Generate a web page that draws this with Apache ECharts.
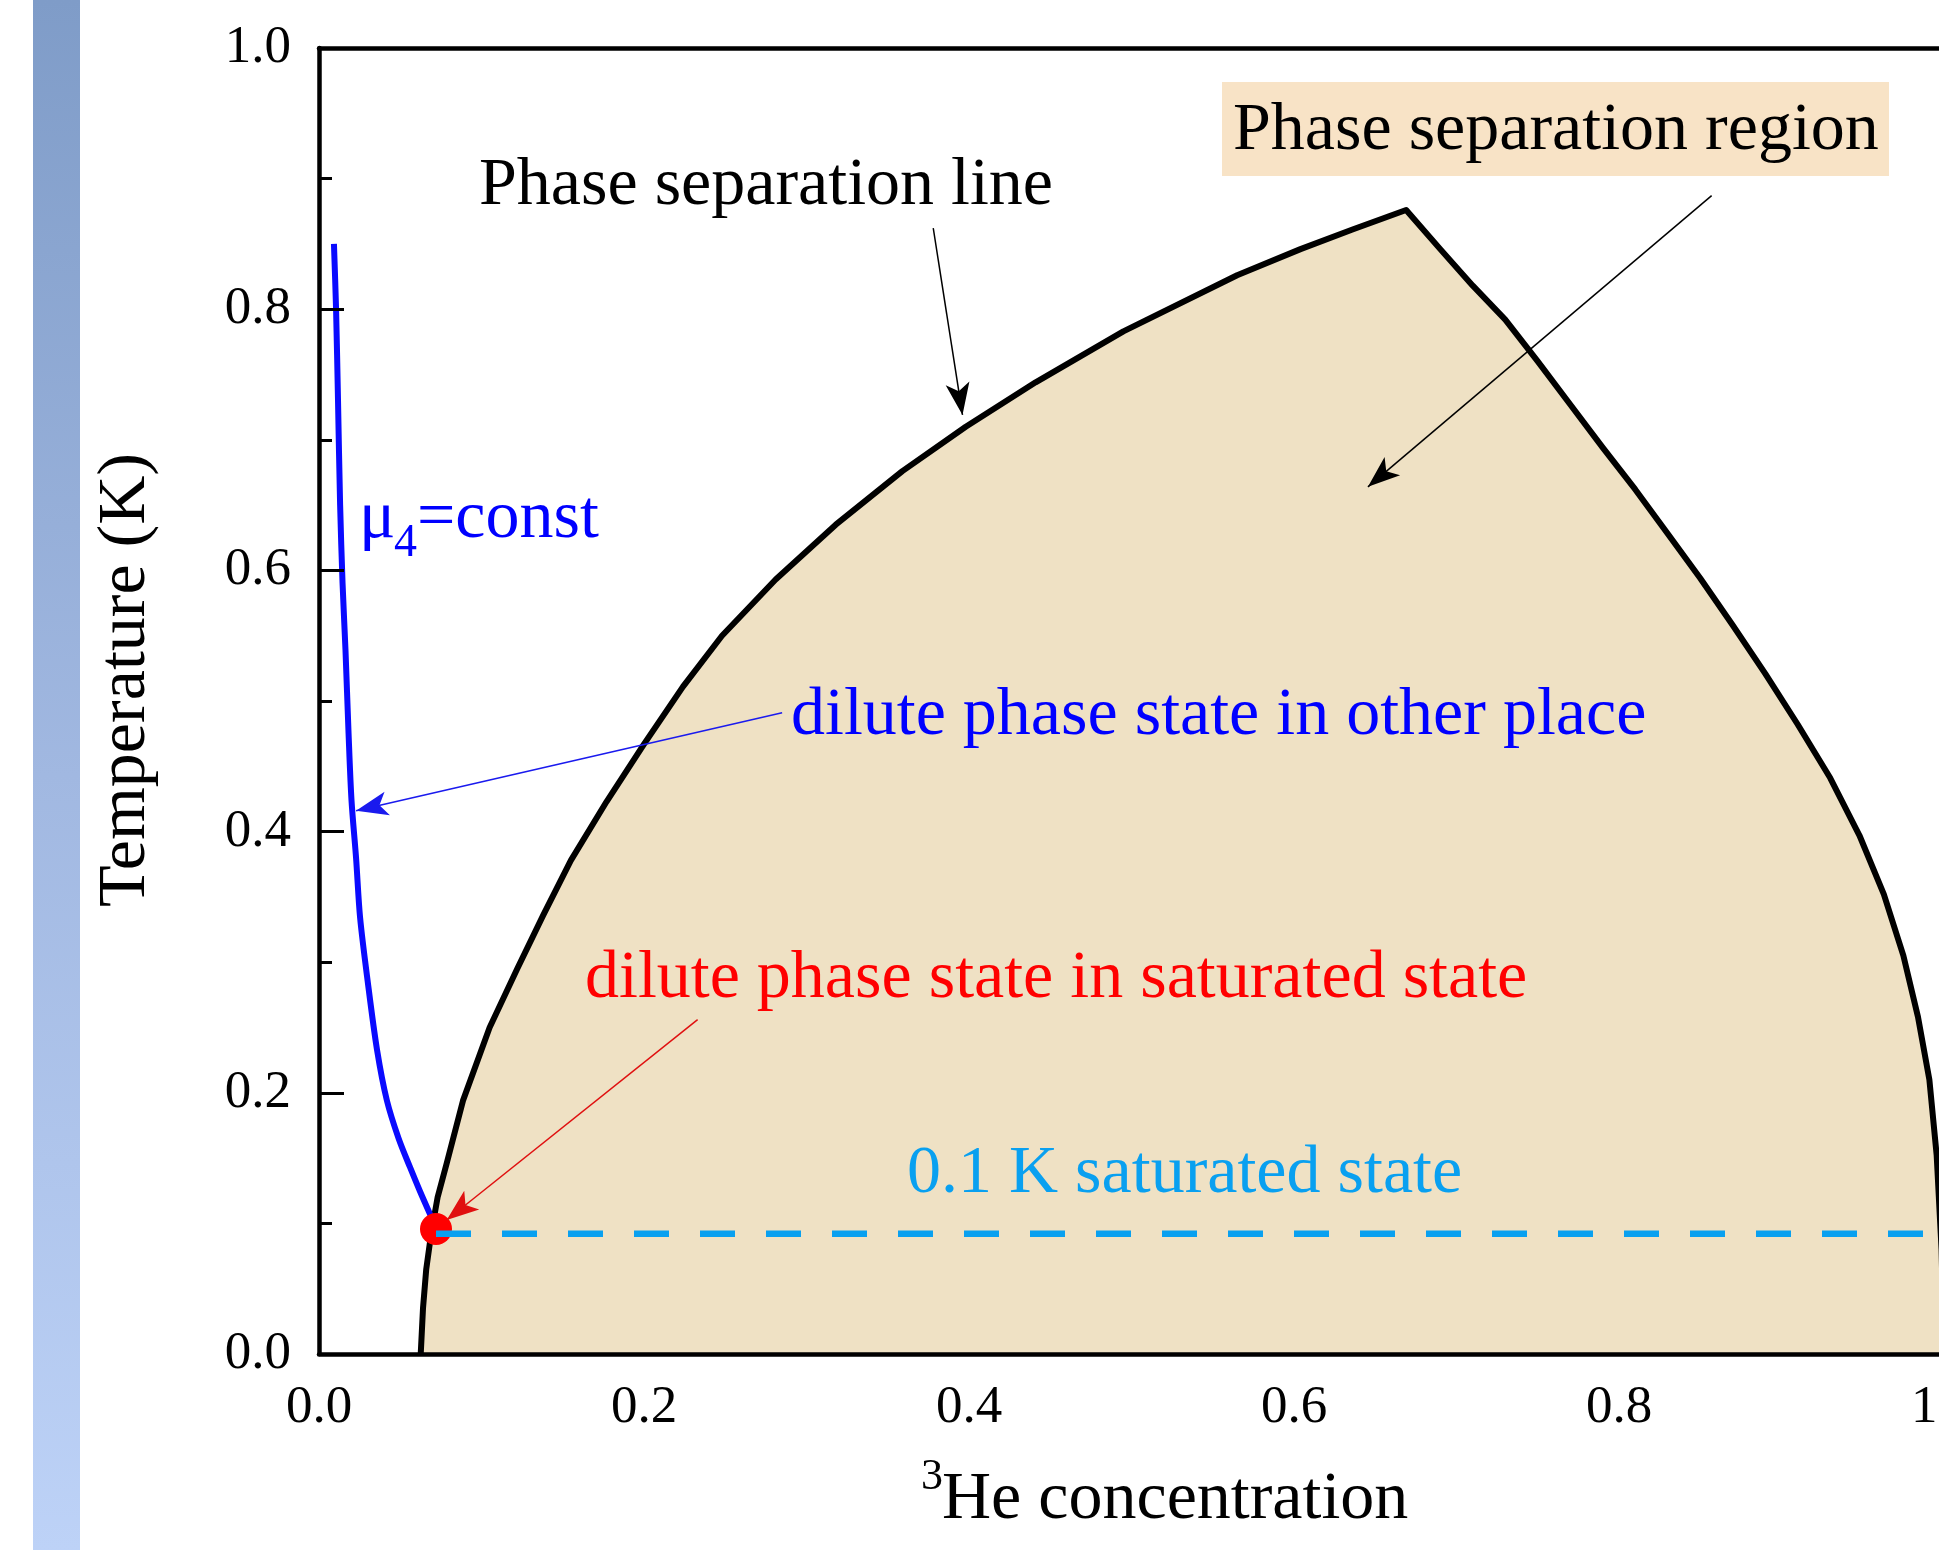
<!DOCTYPE html>
<html><head><meta charset="utf-8">
<script src="https://cdn.jsdelivr.net/npm/echarts/dist/echarts.min.js"></script>
<style>html,body{margin:0;padding:0;background:#fff}#c{width:1939px;height:1550px}</style>
</head><body><div id="c"></div>
<script>
// Phase separation line (x = 3He concentration, T in K)
const boundaryX = [0.0626,0.0640,0.0660,0.0690,0.0730,0.0786,0.0886,0.105,0.122,0.138,0.155,0.177,0.200,0.224,0.248,0.281,0.318,0.359,0.398,0.441,0.495,0.565,0.604,0.636,0.669,
  0.690,0.710,0.730,0.750,0.770,0.790,0.810,0.830,0.850,0.870,0.890,0.910,0.930,0.948,0.963,0.975,0.984,0.991,0.9955,0.9985,1.000];
const boundaryT = [0.000,0.035,0.065,0.092,0.120,0.146,0.194,0.250,0.295,0.336,0.378,0.423,0.467,0.511,0.550,0.593,0.635,0.676,0.710,0.744,0.783,0.826,0.846,0.861,0.876,
  0.846,0.818,0.792,0.760,0.727,0.694,0.662,0.628,0.594,0.558,0.521,0.482,0.441,0.397,0.352,0.305,0.258,0.210,0.152,0.080,0.000];
// mu4 = const curve
const mu4X = [0.0092,0.0105,0.0117,0.0130,0.0145,0.0163,0.0182,0.0200,0.0228,0.0253,0.0300,0.0357,0.0418,0.0490,0.0560,0.0620,0.0680,0.0720];
const mu4T = [0.850,0.800,0.730,0.650,0.590,0.539,0.475,0.424,0.380,0.334,0.285,0.233,0.194,0.165,0.143,0.125,0.108,0.097];
// saturated dilute state point and 0.1 K saturated line
const saturatedPoint = [0.072, 0.0957];
const saturatedLineX = [0.072, 1.0];
const saturatedLineT = [0.092, 0.092];
// annotation arrows (data coordinates)
const arrowFrom = [[0.378,0.862],[0.857,0.887],[0.285,0.491],[0.233,0.256]];
const arrowTo   = [[0.396,0.719],[0.6455,0.664],[0.0228,0.416],[0.0786,0.1026]];
const arrowColors = ['#000000','#000000','#1a1aee','#e01010'];

const FONT = '"Liberation Serif","Times New Roman",serif';
const chart = echarts.init(document.getElementById('c'), null, {renderer:'canvas'});

const zip = (a,b)=>a.map((v,i)=>[v,b[i]]);

function txt(text, x, y, size, color, extra){
  return Object.assign({
    type:'text', x:x, y:y, z:100,
    style:{text:text, font: size+'px '+FONT, fill:color,
      align:'left', textAlign:'left', verticalAlign:'middle', textVerticalAlign:'middle'}
  }, extra||{});
}

const option = {
  animation:false,
  backgroundColor:'#ffffff',
  grid:{left:319, top:48, width:1625, height:1306, containLabel:false, outerBoundsMode:'none'},
  xAxis:[{
    type:'value', min:0, max:1, interval:0.2, position:'bottom', z:10,
    axisLine:{show:true, onZero:false, lineStyle:{color:'#000', width:4.5}},
    axisTick:{show:false},
    splitLine:{show:false},
    axisLabel:{show:true, margin:28, color:'#000', fontSize:53, fontFamily:FONT,
      formatter:v=>v.toFixed(1), showMaxLabel:true, showMinLabel:true}
  },{
    type:'value', min:0, max:1, position:'top', z:10,
    axisLine:{show:true, onZero:false, lineStyle:{color:'#000', width:4.5}},
    axisTick:{show:false}, axisLabel:{show:false}, splitLine:{show:false}
  }],
  yAxis:{
    type:'value', min:0, max:1, interval:0.2, z:10,
    axisLine:{show:true, onZero:false, lineStyle:{color:'#000', width:4.5}},
    axisTick:{show:true, inside:true, length:25, lineStyle:{color:'#000', width:3}},
    minorTick:{show:true, splitNumber:2, length:13, lineStyle:{color:'#000', width:3}},
    splitLine:{show:false},
    axisLabel:{margin:28, color:'#000', fontSize:53, fontFamily:FONT, formatter:v=>v.toFixed(1)}
  },
  series:[
    {
      name:'Phase separation line', type:'line', z:2,
      data: zip(boundaryX, boundaryT),
      showSymbol:false, symbol:'none', smooth:false,
      lineStyle:{color:'#000', width:6, join:'round'},
      areaStyle:{color:'#efe1c4', opacity:1, origin:'start'}
    },
    {
      name:'mu4=const', type:'line', z:3,
      data: zip(mu4X, mu4T),
      showSymbol:false, symbol:'none', smooth:0.3,
      lineStyle:{color:'#0a0aff', width:6}
    },
    {
      name:'saturated point', type:'scatter', z:4,
      data:[saturatedPoint], symbol:'circle', symbolSize:32,
      itemStyle:{color:'#ff0000', opacity:1}
    },
    {
      name:'0.1 K saturated state', type:'line', z:5,
      data: zip(saturatedLineX, saturatedLineT),
      showSymbol:false, symbol:'none',
      lineStyle:{color:'#09a0f0', width:6.5, type:[35,31]},
      markLine:{
        silent:true, animation:false, z:6,
        symbol:['none','arrow'],
        label:{show:false},
        emphasis:{disabled:true},
        data: arrowFrom.map((f,i)=>[
          {coord:f, symbol:'none', lineStyle:{color:arrowColors[i], width:1.5, type:'solid'}, itemStyle:{color:arrowColors[i]}},
          {coord:arrowTo[i], symbol:'arrow', symbolSize:[18,32], itemStyle:{color:arrowColors[i]}}
        ])
      }
    }
  ],
  graphic:[
    {type:'rect', z:0, shape:{x:33,y:0,width:47,height:1550},
      style:{fill:new echarts.graphic.LinearGradient(0,0,0,1,[{offset:0,color:'#7f9cc8'},{offset:0.5,color:'#a1b8e1'},{offset:1,color:'#bdd2f7'}])}},
    {type:'rect', z:90, shape:{x:1222,y:82,width:667,height:94}, style:{fill:'#f8e3c6'}},
    txt('Phase separation region', 1233, 131, 68, '#000'),
    txt('Phase separation line', 479, 186, 68, '#000'),
    txt('\u03bc', 359, 519, 68, '#0000ff'),
    txt('4', 394, 544, 46, '#0000ff'),
    txt('=const', 417, 519, 68, '#0000ff'),
    txt('dilute phase state in other place', 791, 716, 68, '#0000ff'),
    txt('dilute phase state in saturated state', 585, 979, 68, '#ff0000'),
    txt('0.1 K saturated state', 907, 1174, 68, '#09a0f0'),
    txt('3', 921, 1477, 44, '#000'),
    txt('He concentration', 942, 1500, 68, '#000'),
    {type:'text', x:126, y:680, z:100, rotation:Math.PI/2,
      style:{text:'Temperature (K)', font:'68px '+FONT, fill:'#000',
        align:'center', textAlign:'center', verticalAlign:'middle', textVerticalAlign:'middle'}}
  ]
};
chart.setOption(option);
</script>
</body></html>
